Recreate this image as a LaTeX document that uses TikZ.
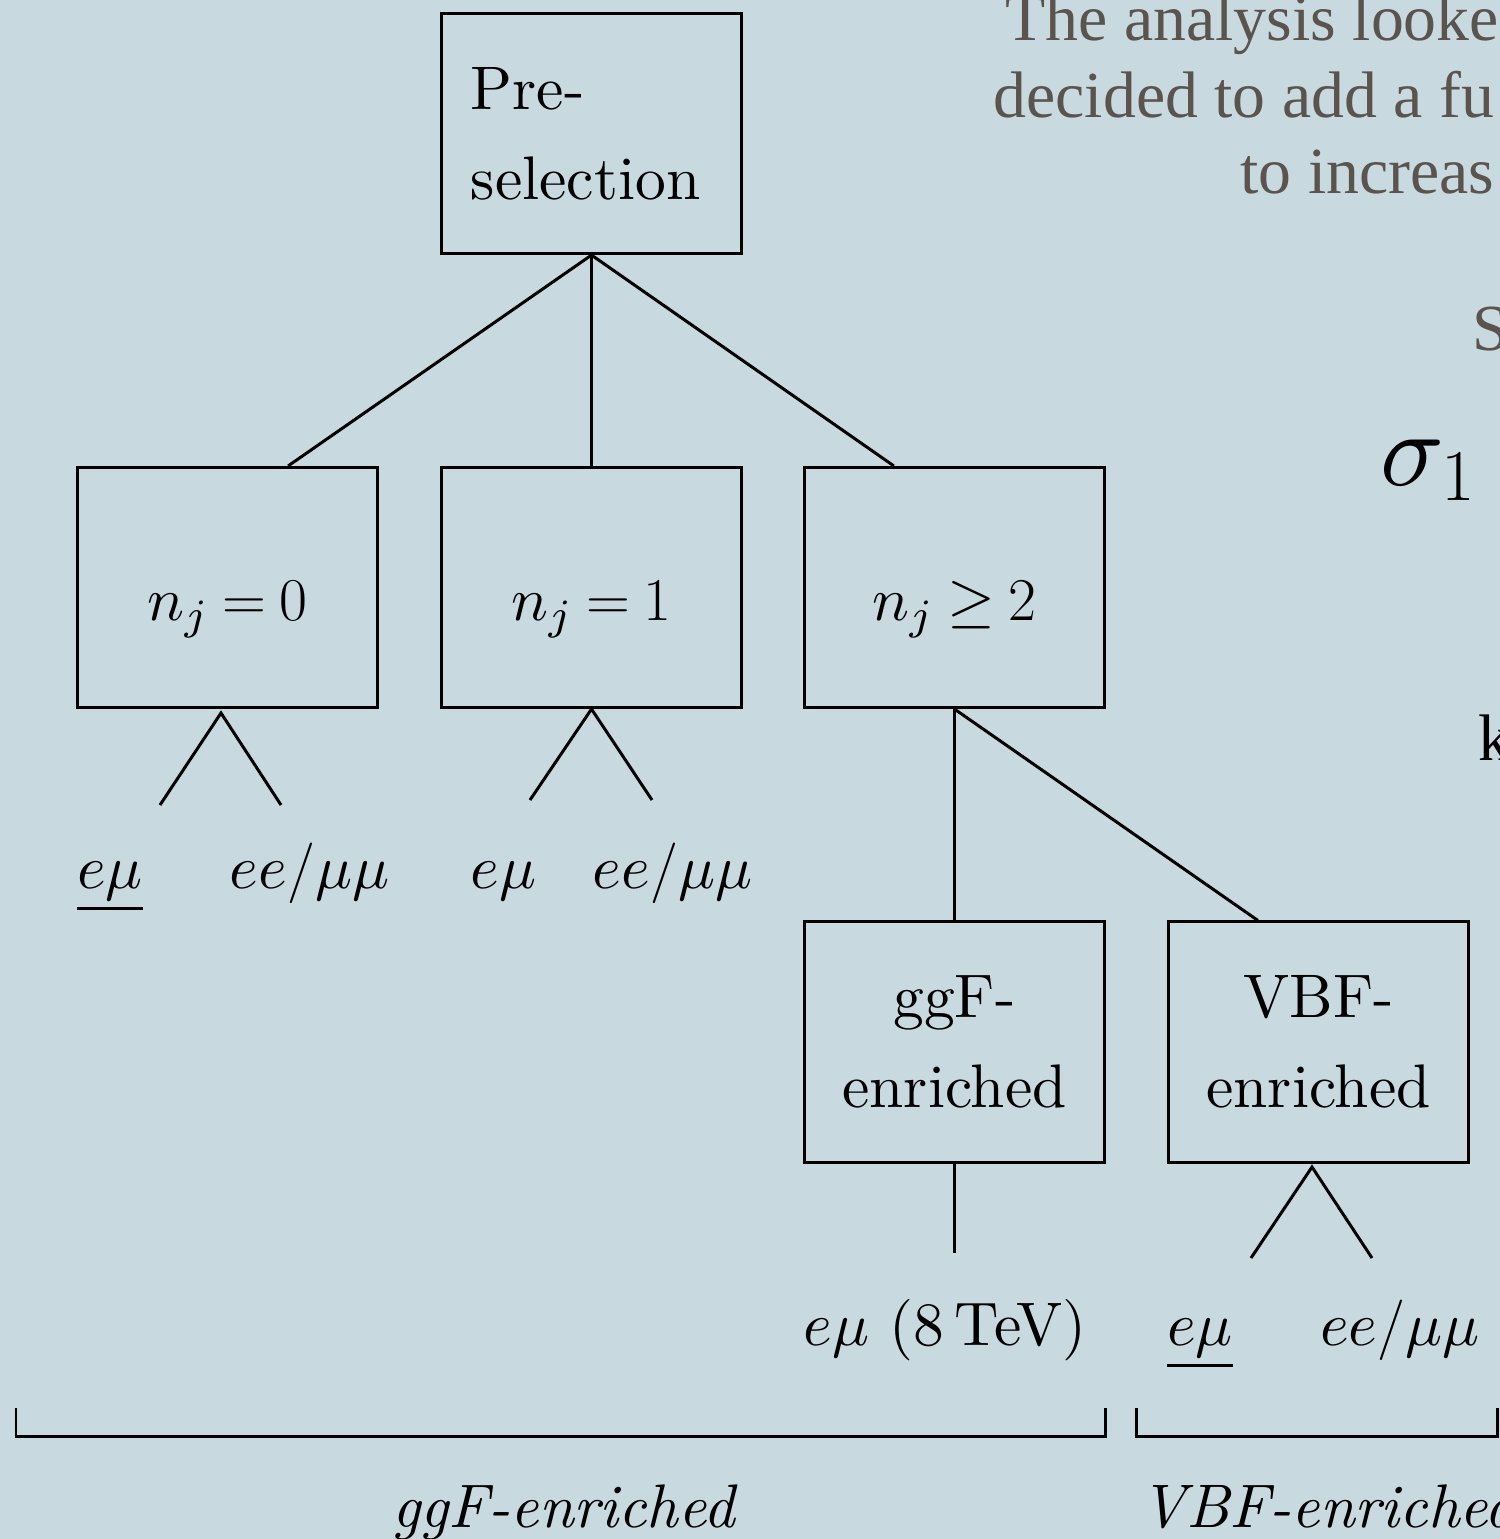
\documentclass[tikz,border=0pt]{standalone}
\usepackage{amsmath}
\usepackage{amssymb}
\usepackage{fontspec}
\setmainfont{lmroman10-regular.otf}[ItalicFont=lmroman10-italic.otf, BoldFont=lmroman10-bold.otf]
\newfontfamily\slidefont{Liberation Serif}
% math letters and symbols from the 10pt designs, scaled
\DeclareFontShape{OML}{cmm}{m}{it}{<-14> cmmi7 <14-> cmmi10}{}
\DeclareFontShape{OMS}{cmsy}{m}{n}{<-14> cmsy7 <14-> cmsy10}{}
\usepackage{xcolor}
\usepackage{tikz}
\usetikzlibrary{positioning, calc}
\definecolor{slidebg}{HTML}{C9D9E0}
\definecolor{slidetext}{HTML}{5A534E}

\begin{document}
\begin{tikzpicture}[x=0.01cm, y=-0.01cm,
  box/.style={draw, line width=0.85pt, minimum width=3cm, minimum height=2.4cm,
    font=\fontsize{17.5}{25.6}\selectfont},
  jetbox/.style={box, text height=0.85cm, text depth=0.2cm},
  leaf/.style={anchor=base, inner sep=0pt, font=\fontsize{17.5}{25.6}\selectfont},
  branch/.style={line width=0.85pt},
  slide/.style={anchor=base west, inner sep=0pt, text=slidetext,
    font=\slidefont\fontsize{18.7}{22}\selectfont}]
  % Slide background
  \useasboundingbox (0,0) rectangle (1500,1539);
  \clip (0,0) rectangle (1500,1539);
  \fill[slidebg] (0,0) rectangle (1500,1539);

  % Slide text cut by the frame
  \node[slide] (lineone) at (1005,40) {The analysis looked};
  \node[slide] (linetwo) at (993,117) {decided to add a fu};
  \node[slide] (linethree) at (1240,193) {to increas};
  \node[slide] (sletter) at (1472,350) {S};
  \node[anchor=base west, inner sep=0pt, font=\fontsize{30}{36}\selectfont] (sigma) at (1380,485) {$\sigma_1$};
  \node[slide, text=black] (kletter) at (1478,760) {k};

  % Boxes
  \node[box, text width=2.41cm, align=left] (pre) at (591.5,133.5) {Pre-\\selection};
  \node[jetbox] (nzero) at (227.5,587.5) {$n_j \mkern-1mu= \mkern-1mu0$\hspace{0.25cm}};
  \node[jetbox] (none) at (591.5,587.5) {$n_j \mkern-1mu= \mkern-1mu1$\hspace{0.25cm}};
  \node[jetbox] (ntwo) at (954.5,587.5) {$n_j \mkern-1mu\geq \mkern-1mu2$\hspace{0.25cm}};
  \node[box, align=center] (ggf) at (954.5,1042) {ggF-\\enriched};
  \node[box, align=center] (vbf) at (1318.5,1042) {VBF-\\enriched};

  % Jet multiplicity branches
  \draw[branch] (pre.south) -- ($(nzero.north west)!0.7!(nzero.north east)$);
  \draw[branch] (pre.south) -- (none.north);
  \draw[branch] (pre.south) -- ($(ntwo.north west)!0.3!(ntwo.north east)$);
  \draw[branch] (ntwo.south) -- (ggf.north);
  \draw[branch] (ntwo.south) -- ($(vbf.north west)!0.3!(vbf.north east)$);

  % Flavour splits
  \coordinate (zapex) at (221,713);
  \coordinate (zleft) at (160,805);
  \coordinate (zright) at (281,805);
  \coordinate (oleft) at (530,800);
  \coordinate (oright) at (652,800);
  \coordinate (gend) at (954.5,1253);
  \coordinate (vapex) at (1312,1167);
  \coordinate (vleft) at (1251,1258);
  \coordinate (vright) at (1372,1258);
  \draw[branch] (zleft) -- (zapex) -- (zright);
  \draw[branch] (oleft) -- (none.south) -- (oright);
  \draw[branch] (ggf.south) -- (gend);
  \draw[branch] (vleft) -- (vapex) -- (vright);

  % Leaf labels
  \node[leaf] (zem) at (110,888) {$\underline{e\mu}$};
  \node[leaf] (zll) at (309.5,888) {$ee/\mu\mu$};
  \node[leaf] (oem) at (503.5,888) {$e\mu$};
  \node[leaf] (oll) at (672.5,888) {$ee/\mu\mu$};
  \node[leaf] (gem) at (945,1345) {$e\mu$ (8\,TeV)};
  \node[leaf] (vem) at (1200,1345) {$\underline{e\mu}$};
  \node[leaf] (vll) at (1400,1345) {$ee/\mu\mu$};

  % Category brackets
  \draw[branch] (16,1408) -- (16,1436) -- (1105,1436) -- (1105,1408);
  \draw[branch] (1136,1408) -- (1136,1436) -- (1497,1436) -- (1497,1408);
  \node[leaf] (ggfcat) at (565,1527) {\textit{ggF-enriched}};
  \node[leaf, anchor=base west] (vbfcat) at (1140,1527) {\textit{VBF-enriched}};
\end{tikzpicture}
\end{document}
